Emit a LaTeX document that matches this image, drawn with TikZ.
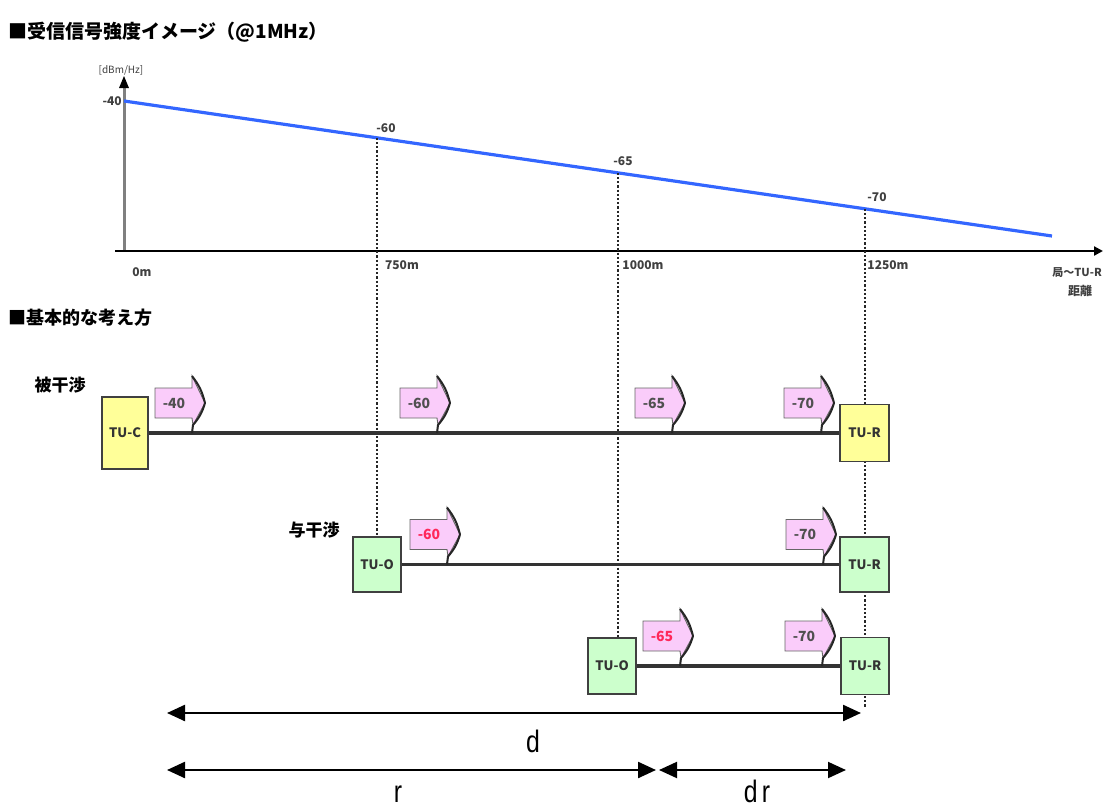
\documentclass[tikz,border=0pt]{standalone}
\usepackage{fontspec}
\setmainfont{Liberation Sans}
\newfontfamily\jp{Noto Sans CJK JP}
\usetikzlibrary{arrows.meta}
\definecolor{yboxc}{RGB}{255,255,153}
\definecolor{gboxc}{RGB}{204,255,204}
\definecolor{pinkc}{RGB}{250,204,250}
\definecolor{bluec}{RGB}{51,102,255}
\definecolor{redc}{RGB}{255,40,90}
\definecolor{txtc}{RGB}{80,80,80}
\tikzset{
  tubox/.style={draw=black!75, line width=1.4pt, inner sep=0pt, font=\jp\bfseries\fontsize{13}{13}\selectfont, text=black!80},
  ybox/.style={tubox, fill=yboxc},
  gbox/.style={tubox, fill=gboxc},
  link/.style={draw=black!80, line width=3.4pt},
  vdash/.style={draw=black!85, line width=1.6pt, dash pattern=on 2.2pt off 2pt},
  sigfill/.style={fill=pinkc, draw=black!60, line width=0.9pt},
  sighead/.style={draw=black!85, line width=2pt, line join=round},
  sigtext/.style={font=\jp\bfseries\fontsize{14}{14}\selectfont, inner sep=0pt},
  axlab/.style={font=\jp\bfseries\fontsize{12}{12}\selectfont, text=black!75, inner sep=0pt},
  dimarrow/.style={line width=2.4pt, {Triangle[length=18pt,width=16pt]}-{Triangle[length=18pt,width=16pt]}},
  dimlab/.style={font=\fontsize{31}{31}\selectfont, inner sep=0pt}
}
\newcommand\sigarrow[5]{%
  \filldraw[sigfill] (#2,#3-45) -- (#2+37,#3-45) -- (#2+37,#3-57) -- (#2+50,#3-30) -- (#2+38,#3-8) -- (#2+37,#3-15) -- (#2,#3-15) -- cycle;
  \draw[sighead] (#2+37,#3-57) to[bend left=12] (#2+50,#3-30) to[bend left=12] (#2+38,#3-8) -- (#2+37,#3);
  \node[sigtext, text=#5] (#1) at (#2+19,#3-30) {#4};
}
\begin{document}
\begin{tikzpicture}[x=1pt,y=-1pt]
\useasboundingbox (0,0) rectangle (1104,809);

% titles
\node[anchor=west, font=\jp\bfseries\fontsize{19}{19}\selectfont, inner sep=0pt] (title1) at (8,32) {■受信信号強度イメージ（@1MHz）};
\node[anchor=west, font=\jp\bfseries\fontsize{18}{18}\selectfont, inner sep=0pt] (title2) at (8,318) {■基本的な考え方};

% chart
\coordinate (o) at (124,251);
\coordinate (ytop) at (124,76);
\coordinate (xend) at (1103,251);
\coordinate (xstart) at (115,251);
\draw[draw=black!50, line width=3pt] (o) -- (124,86);
\fill[black] (ytop) -- (119,88) -- (129,88) -- cycle;
\draw[line width=2.2pt, -{Triangle[length=9pt,width=9pt]}] (xstart) -- (xend);
\node[axlab, font=\jp\fontsize{10}{10}\selectfont] (yunit) at (121,70) {[dBm/Hz]};
\node[axlab, anchor=east] (v40) at (122,101) {-40};

\coordinate (b0) at (124,101);
\coordinate (b1) at (1052,236);
\coordinate (p750) at (377,137.8);
\coordinate (p1000) at (618,172.8);
\coordinate (p1250) at (865,208.8);
\draw[draw=bluec, line width=3.2pt] (b0) -- (b1);

\node[axlab] (v60) at (386,128) {-60};
\node[axlab] (v65) at (623,161) {-65};
\node[axlab] (v70) at (877,197) {-70};

\node[axlab] (x0) at (142,272) {0m};
\node[axlab] (x750) at (402,265) {750m};
\node[axlab] (x1000) at (643,265) {1000m};
\node[axlab] (x1250) at (888,265) {1250m};
\node[axlab, anchor=east, font=\jp\bfseries\fontsize{11}{11}\selectfont] (xlab1) at (1102,273) {局〜TU-R};
\node[axlab] (xlab2) at (1080,291) {距離};

% vertical dotted lines
\coordinate (q1) at (377,537);
\coordinate (q2) at (618,638);
\coordinate (q3) at (865,708);
\draw[vdash] (p750) -- (q1);
\draw[vdash] (p1000) -- (q2);
\draw[vdash] (p1250) -- (q3);

% row 1
\node[font=\jp\bfseries\fontsize{17}{17}\selectfont, inner sep=0pt] (hikan) at (60,385) {被干渉};
\node[ybox, minimum width=46pt, minimum height=72pt] (tuc) at (125,433) {TU-C};
\node[ybox, minimum width=49pt, minimum height=57pt] (tur1) at (864.5,433) {TU-R};
\draw[link] (tuc.east) -- (tur1.west);
\sigarrow{s11}{155}{433}{-40}{txtc}
\sigarrow{s12}{400}{433}{-60}{txtc}
\sigarrow{s13}{635}{433}{-65}{txtc}
\sigarrow{s14}{784}{433}{-70}{txtc}

% row 2
\node[font=\jp\bfseries\fontsize{17}{17}\selectfont, inner sep=0pt] (yokan) at (314,530) {与干渉};
\node[gbox, minimum width=48pt, minimum height=55pt] (tuo1) at (377,564.5) {TU-O};
\node[gbox, minimum width=49pt, minimum height=55pt] (tur2) at (864.5,564.5) {TU-R};
\draw[link] (tuo1.east) -- (tur2.west);
\sigarrow{s21}{410}{564.5}{-60}{redc}
\sigarrow{s22}{786}{564.5}{-70}{txtc}

% row 3
\node[gbox, minimum width=48pt, minimum height=56pt] (tuo2) at (612,666) {TU-O};
\node[gbox, minimum width=48pt, minimum height=57pt] (tur3) at (865,666) {TU-R};
\draw[link] (tuo2.east) -- (tur3.west);
\sigarrow{s31}{643}{666}{-65}{redc}
\sigarrow{s32}{785}{666}{-70}{txtc}

% dimension arrows
\coordinate (dA) at (167,713);
\coordinate (dB) at (861,713);
\coordinate (rA) at (167,770);
\coordinate (rB) at (656,770);
\coordinate (drA) at (659,770);
\coordinate (drB) at (846,770);
\draw[dimarrow] (dA) -- (dB);
\draw[dimarrow] (rA) -- (rB);
\draw[dimarrow, line width=2pt] (drA) -- (drB);
\node[dimlab] (dl) at (533,741) {\scalebox{0.8}[1]{d}};
\node[dimlab] (rl) at (398,794) {\scalebox{0.8}[1]{r}};
\node[dimlab] (drl) at (757,791) {\scalebox{0.8}[1]{d\,r}};
\end{tikzpicture}
\end{document}
